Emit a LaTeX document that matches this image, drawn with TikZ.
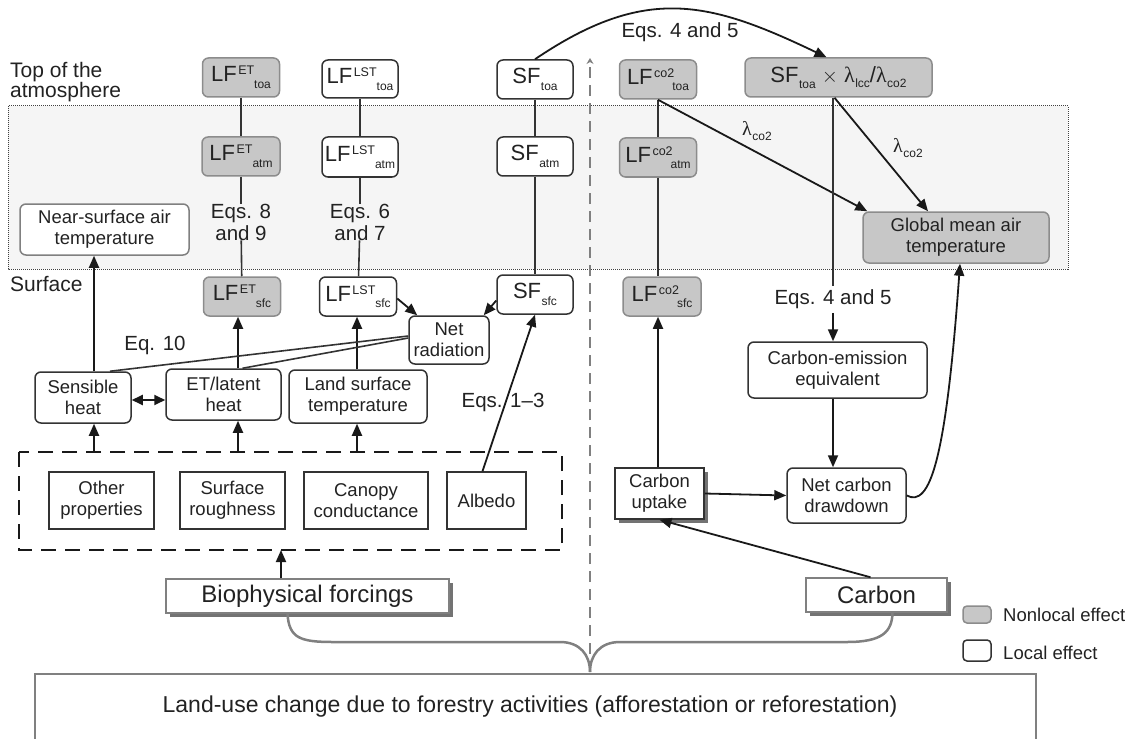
\documentclass[tikz,border=0pt]{standalone}
\usepackage{fontspec}
\setmainfont{Liberation Sans}
\newfontfamily\grk{Liberation Serif}
\usetikzlibrary{arrows.meta,shadows}
\newcommand{\LFs}[3][0pt]{LF\kern1.5pt\raisebox{7pt}{\fontsize{12.5}{12.5}\selectfont #2}\kern#1\raisebox{-6.5pt}{\fontsize{12}{12}\selectfont #3}}
\newcommand{\SFs}[1]{SF\kern0.5pt\raisebox{-6.5pt}{\fontsize{12}{12}\selectfont #1}}
\newcommand{\lam}[1]{{\grk λ}\kern0.5pt\raisebox{-5pt}{\fontsize{12}{12}\selectfont #1}}
\definecolor{txt}{HTML}{222222}
\tikzset{
  every node/.style={text=txt, font=\fontsize{18.5}{21}\selectfont, align=center, inner sep=0pt},
  box/.style={draw=black!80, line width=1.5pt, rounded corners=6pt, fill=white},
  gbox/.style={box, draw=black!45, fill=black!22},
  lfbox/.style={font=\fontsize{22}{22}\selectfont},
  sq/.style={draw=black!80, line width=1.5pt, fill=white},
  shad/.style={drop shadow={shadow xshift=4pt, shadow yshift=-4pt, fill=black!55, opacity=1}},
  lbl/.style={font=\fontsize{20.5}{22}\selectfont},
  big/.style={font=\fontsize{24}{26}\selectfont},
  arr/.style={line width=1.8pt, draw=black!90, -{Triangle[length=12pt,width=10pt]}},
  ln/.style={line width=1.6pt, draw=black!80},
  brace/.style={line width=2.5pt, draw=black!50},
}
\begin{document}
\begin{tikzpicture}[x=1pt,y=-1pt]
\useasboundingbox (0,0) rectangle (1131,738);
% shaded atmosphere band
\draw[densely dotted, line width=1pt, draw=black!75, fill=black!4] (8,106) rectangle (1068,269);
% level labels
\node[anchor=north west, align=left, font=\fontsize{21}{20}\selectfont] (toaLbl) at (10,62) {Top of the\\atmosphere};
\node[anchor=west, font=\fontsize{21}{21}\selectfont] (sfcLbl) at (10,284) {Surface};
% top row
\node[gbox, lfbox, minimum width=77pt, minimum height=39pt] (etToa) at (241,77.5) {\LFs{ET}{toa}};
\node[box, lfbox, minimum width=76pt, minimum height=38pt] (lstToa) at (360,79) {\LFs{LST}{toa}};
\node[box, lfbox, minimum width=76pt, minimum height=39pt] (sfToa) at (535,79.5) {\SFs{toa}};
\node[gbox, lfbox, minimum width=77pt, minimum height=39pt] (co2Toa) at (658,79.5) {\LFs[-2pt]{co2}{toa}};
\node[gbox, lfbox, minimum width=187pt, minimum height=39pt] (sfl) at (838.5,77.5) {\SFs{toa} $\times$ \lam{lcc}/\lam{co2}};
% atm row
\node[gbox, lfbox, minimum width=78pt, minimum height=39pt] (etAtm) at (241,156.5) {\LFs{ET}{atm}};
\node[box, lfbox, minimum width=76pt, minimum height=40pt] (lstAtm) at (360,157) {\LFs{LST}{atm}};
\node[box, lfbox, minimum width=76pt, minimum height=39pt] (sfAtm) at (535,156.5) {\SFs{atm}};
\node[gbox, lfbox, minimum width=77pt, minimum height=39pt] (co2Atm) at (658,157.5) {\LFs[-2pt]{co2}{atm}};
\node[box, draw=black!50, minimum width=169pt, minimum height=51pt] (near) at (104.5,229.5) {Near-surface air\\temperature};
\node[gbox, minimum width=186pt, minimum height=51pt] (global) at (956,237.5) {Global mean air\\temperature};
% sfc row
\node[gbox, lfbox, minimum width=77pt, minimum height=39pt] (etSfc) at (242,296.5) {\LFs{ET}{sfc}};
\node[box, lfbox, minimum width=77pt, minimum height=39pt] (lstSfc) at (358,296.5) {\LFs{LST}{sfc}};
\node[box, lfbox, minimum width=76pt, minimum height=39pt] (sfSfc) at (535,294.5) {\SFs{sfc}};
\node[gbox, lfbox, minimum width=78pt, minimum height=39pt] (co2Sfc) at (662,296.5) {\LFs[-2pt]{co2}{sfc}};
% eq labels
\node[lbl] (eq89) at (241,222) {Eqs. 8\\and 9};
\node[lbl] (eq67) at (360,222) {Eqs. 6\\and 7};
\node[lbl] (eq10) at (155,345) {Eq. 10};
\node[lbl] (eq13) at (503,402) {Eqs. 1--3};
\node[lbl] (eq45top) at (680,32) {Eqs. 4 and 5};
\node[lbl] (eq45) at (833,299) {Eqs. 4 and 5};
\node[font=\fontsize{20}{20}\selectfont] (lam1) at (757,131) {\lam{co2}};
\node[font=\fontsize{20}{20}\selectfont] (lam2) at (908,148) {\lam{co2}};
% process boxes
\node[box, minimum width=80pt, minimum height=48pt] (netrad) at (449,340) {Net\\radiation};
\node[box, minimum width=96pt, minimum height=51pt] (sens) at (83,397.5) {Sensible\\heat};
\node[box, minimum width=115pt, minimum height=51pt] (etl) at (223.5,394.5) {ET/latent\\heat};
\node[box, minimum width=138pt, minimum height=53pt] (lst) at (358,396.5) {Land surface\\temperature};
\node[box, minimum width=179pt, minimum height=56pt] (ceq) at (837.5,370) {Carbon-emission\\equivalent};
\node[sq, shad, minimum width=89pt, minimum height=51pt] (uptake) at (659.5,493.5) {Carbon\\uptake};
\node[box, minimum width=119pt, minimum height=55pt] (netc) at (846.5,495.5) {Net carbon\\drawdown};
% biophysical properties
\draw[line width=2.6pt, dash pattern=on 15pt off 9pt, draw=black!90] (19,452) rectangle (562,550);
\node[sq, minimum width=105pt, minimum height=57pt] (other) at (101.5,500.5) {Other\\properties};
\node[sq, minimum width=105pt, minimum height=57pt] (rough) at (232.5,500.5) {Surface\\roughness};
\node[sq, minimum width=124pt, minimum height=57pt] (canopy) at (366,500.5) {Canopy\\conductance};
\node[sq, minimum width=79pt, minimum height=57pt] (albedo) at (486.5,500.5) {Albedo};
\coordinate (dbTop1) at (94,452);
\coordinate (dbTop2) at (238,452);
\coordinate (dbTop3) at (357,452);
\coordinate (dbBot) at (281,550);
% forcings
\node[sq, shad, draw=black!50, big, minimum width=283pt, minimum height=34pt] (bio) at (307.5,596) {Biophysical forcings};
\node[sq, shad, draw=black!50, big, minimum width=141pt, minimum height=34pt] (carbon) at (876.5,595) {Carbon};
% bottom box
\draw[line width=2pt, draw=black!50] (35,750) -- (35,674) -- (1036,674) -- (1036,750);
\node[font=\fontsize{23}{25}\selectfont] (luc) at (530,707) {Land-use change due to forestry activities (afforestation or reforestation)};
% legend
\node[gbox, rounded corners=4pt, minimum width=28pt, minimum height=17pt] (legG) at (977,614.5) {};
\node[anchor=west] (legGt) at (1003,615) {Nonlocal effect};
\node[box, rounded corners=4pt, minimum width=28pt, minimum height=21pt] (legW) at (977,650.5) {};
\node[anchor=west] (legWt) at (1003,653) {Local effect};
% divider
\coordinate (divT) at (590,58);
\coordinate (divB) at (590,672);
\draw[line width=2.6pt, draw=black!50, dash pattern=on 11pt off 7pt, -{Stealth[length=6pt,width=7pt]}] (divB) -- (divT);
% brace
\draw[brace] ([xshift=-20pt]bio.south) .. controls (289,638) and (300,642) .. (333,642) -- (560,642) .. controls (580,642) and (590,655) .. (divB);
\draw[brace] (divB) .. controls (590,655) and (600,642) .. (620,642) -- (847,642) .. controls (882,642) and (892,632) .. ([xshift=16pt]carbon.south);
% vertical LF lines
\draw[ln] (etToa) -- (etAtm);
\draw[ln] (etAtm) -- (eq89);
\draw[ln] (eq89) -- (etSfc);
\draw[ln] (lstToa) -- (lstAtm);
\draw[ln] (lstAtm) -- (eq67);
\draw[ln] (eq67) -- (lstSfc);
\draw[ln] (sfToa) -- (sfAtm);
\draw[ln] (sfAtm) -- (sfSfc);
\draw[ln] (co2Toa) -- (co2Atm);
\draw[ln] (co2Atm.south) -- (co2Atm.south |- co2Sfc.north);
% arrows left side
\draw[arr] (sens.north -| dbTop1) -- (near.south -| dbTop1);
\draw[arr] (etl.north -| dbTop2) -- (etSfc.south -| dbTop2);
\draw[arr] (lst.north -| dbTop3) -- (lstSfc.south -| dbTop3);
\draw[arr] (dbTop1) -- (sens.south -| dbTop1);
\draw[arr] (dbTop2) -- (etl.south -| dbTop2);
\draw[arr] (dbTop3) -- (lst.south -| dbTop3);
\draw[arr, {Triangle[length=11pt,width=10pt]}-{Triangle[length=11pt,width=10pt]}] ([yshift=-2.5pt]sens.east) -- ([yshift=-5.5pt]etl.west);
\draw[arr] (bio.north -| dbBot) -- (dbBot);
\draw[ln] ([yshift=4pt]netrad.west) -- ([xshift=27pt]sens.north);
\draw[ln] ([yshift=2pt]netrad.west) -- ([xshift=19pt]etl.north);
\draw[arr] ([yshift=-2pt]lstSfc.east) -- ([xshift=9pt]netrad.north west);
\draw[arr] ([yshift=-6pt]sfSfc.west) -- ([xshift=-6pt]netrad.north east);
\draw[arr] ([xshift=-4pt]albedo.north) -- (sfSfc.south);
% right side
\draw[arr] (sfToa.north) .. controls (646,-16) and (710,1.5) .. ([xshift=-12pt]sfl.north);
\draw[arr] (co2Toa.south) -- ([xshift=5pt]global.north west);
\draw[arr] ([xshift=-4pt]sfl.south) -- ([xshift=-28pt]global.north);
\draw[ln, line width=1.8pt] (eq45.north |- sfl.south) -- ([yshift=3pt]eq45.north);
\draw[arr] ([yshift=-4pt]eq45.south) -- (eq45.south |- ceq.north);
\draw[arr] (eq45.south |- ceq.south) -- (eq45.south |- netc.north);
\draw[arr] (uptake.east) -- (netc.west);
\draw[arr] (uptake.north -| co2Atm.south) -- (co2Atm.south |- co2Sfc.south);
\draw[arr] ([xshift=-6pt]carbon.north) -- (uptake.south);
\draw[arr] (netc.east) .. controls (930,508) and (946,460) .. ([xshift=4pt]global.south);
\end{tikzpicture}
\end{document}
